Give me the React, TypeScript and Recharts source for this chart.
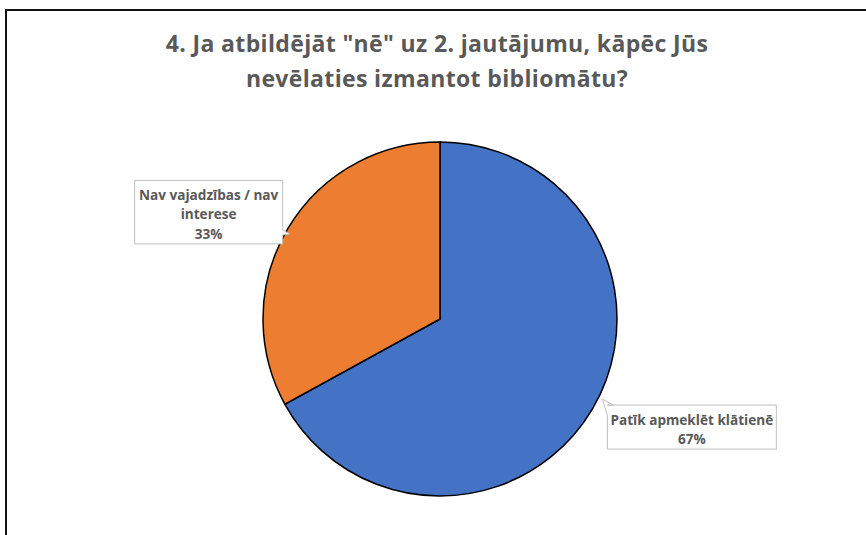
import React from 'react';
import { PieChart, Pie, Cell } from 'recharts';

const categories = ['Patīk apmeklēt klātienē', 'Nav vajadzības / nav interese'];
const shares = [67, 33];
const labelLines = [['Patīk apmeklēt klātienē'], ['Nav vajadzības / nav', 'interese']];
const colors = ['#4472C4', '#ED7D31'];
const titleLines = ['4. Ja atbildējāt "nē" uz 2. jautājumu, kāpēc Jūs', 'nevēlaties izmantot bibliomātu?'];

const data = categories.map((name, i) => ({ name, value: shares[i] }));

const RADIAN = Math.PI / 180;
const FONT = '"Open Sans", "DejaVu Sans", sans-serif';

function renderLabel(props: any) {
  const { cx, cy, midAngle, outerRadius, percent, index } = props;
  const ax = cx + outerRadius * Math.cos(-midAngle * RADIAN);
  const ay = cy + outerRadius * Math.sin(-midAngle * RADIAN);
  const lines = [...labelLines[index], `${Math.round(percent * 100)}%`];
  const longest = Math.max(...lines.map((l) => l.length));
  const w = longest * 7 + 8;
  const lh = 19.5;
  const h = lines.length * lh + 5;
  const right = Math.cos(-midAngle * RADIAN) > 0;

  let x: number, y: number, pts: string;
  if (right) {
    x = ax + 15;
    y = ay - 4;
    const tx = x - 5;
    const ty = y - 6;
    pts = `${x},${y} ${x + w},${y} ${x + w},${y + h} ${x},${y + h} ${x},${y + 10} ${tx},${ty} ${x + 6},${y}`;
  } else {
    const rx = ax - 5;
    x = rx - w;
    y = ay + 15 - h;
    pts = `${x},${y} ${rx},${y} ${rx},${ay + 1} ${ax + 2},${ay + 5} ${rx},${ay + 6} ${rx},${y + h} ${x},${y + h}`;
  }

  return (
    <g>
      <polygon points={pts} fill="#ffffff" stroke="#bfbfbf" strokeWidth={1} />
      {lines.map((l, i) => (
        <text
          key={i}
          x={x + w / 2}
          y={y + 14 + i * lh}
          textAnchor="middle"
          dominantBaseline="central"
          fontFamily={FONT}
          fontWeight={700}
          fontSize={13.6}
          fill="#595959"
        >
          {l}
        </text>
      ))}
    </g>
  );
}

export default function App() {
  return (
    <div style={{ position: 'absolute', left: 0, top: 0, width: 866, height: 535, background: '#fff', overflow: 'hidden' }}>
      <div
        style={{
          position: 'absolute',
          left: 5,
          top: 9,
          width: 900,
          height: 600,
          borderLeft: '2px solid #111',
          borderTop: '2px solid #111',
        }}
      />
      <div
        style={{
          position: 'absolute',
          left: 0,
          top: 26,
          width: 874,
          textAlign: 'center',
          fontFamily: FONT,
          fontWeight: 700,
          fontSize: 23,
          letterSpacing: 0.35,
          lineHeight: '35px',
          color: '#595959',
        }}
      >
        {titleLines.map((t, i) => (
          <div key={i}>{t}</div>
        ))}
      </div>
      <div style={{ position: 'absolute', left: 0, top: 0 }}>
        <PieChart width={866} height={535}>
          <Pie
            data={data}
            dataKey="value"
            nameKey="name"
            cx={435}
            cy={314}
            outerRadius={177}
            startAngle={90}
            endAngle={-270}
            stroke="#000"
            strokeWidth={1.5}
            label={renderLabel}
            labelLine={false}
            isAnimationActive={false}
          >
            {data.map((d, i) => (
              <Cell key={d.name} fill={colors[i]} />
            ))}
          </Pie>
        </PieChart>
      </div>
    </div>
  );
}
